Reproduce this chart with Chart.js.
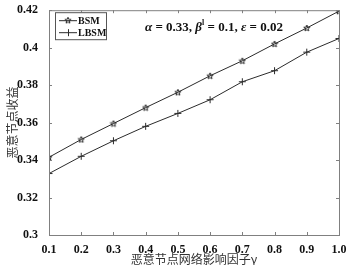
<!DOCTYPE html>
<html>
<head>
<meta charset="utf-8">
<script src="https://cdn.jsdelivr.net/npm/chart.js@4"></script>
<style>
	html, body { margin: 0; padding: 0; background: #fff; }
	#wrap { width: 350px; height: 265px; }
</style>
</head>
<body>
<div id="wrap"><canvas id="chart-line"></canvas></div>
<script>
// Data
const GAMMA = [0.1, 0.2, 0.3, 0.4, 0.5, 0.6, 0.7, 0.8, 0.9, 1.0];
const BSM = [0.3415, 0.351, 0.3595, 0.368, 0.3762, 0.385, 0.393, 0.402, 0.4105, 0.4195];
const LBSM = [0.3328, 0.342, 0.3503, 0.358, 0.3649, 0.3722, 0.3818, 0.3877, 0.3976, 0.4049];
const X_TICKS = ["0.1", "0.2", "0.3", "0.4", "0.5", "0.6", "0.7", "0.8", "0.9", "1.0"];
const Y_TICKS = ["0.3", "0.32", "0.34", "0.36", "0.38", "0.4", "0.42"];
const SERIES_NAMES = ["BSM", "LBSM"];
// note pieces: [text, italic]
const NOTE = [["α", true], [" = 0.33, ", false], ["β", true], ["ˡ", false], [" = 0.1, ", false], ["ε", true], [" = 0.02", false]];
const X_TITLE = "恶意节点网络影响因子γ";
const Y_TITLE = "恶意节点收益";

const LINE = "#2b2b2b";
const FRAME = "#808080";
const SERIF = "'Liberation Serif', 'Times New Roman', serif";
const CJK = "'Noto Sans CJK SC', sans-serif";

// Pentagram marker (MATLAB 'p')
const star = document.createElement("canvas");
star.width = 8;
star.height = 8;
(function () {
	const c = star.getContext("2d");
	c.strokeStyle = LINE;
	c.lineWidth = 1;
	c.beginPath();
	for (let i = 0; i < 10; i++) {
		const r = i % 2 === 0 ? 3.3 : 1.4;
		const a = -Math.PI / 2 + (i * Math.PI) / 5;
		const px = 4 + r * Math.cos(a);
		const py = 4.3 + r * Math.sin(a);
		i === 0 ? c.moveTo(px, py) : c.lineTo(px, py);
	}
	c.closePath();
	c.stroke();
})();

const toPoints = (ys) => GAMMA.map((x, i) => ({ x: x, y: ys[i] }));

const DATA = {
	datasets: [
		{
			label: SERIES_NAMES[0],
			data: toPoints(BSM),
			borderColor: LINE,
			borderWidth: 1,
			pointStyle: star,
			pointRadius: 4,
		},
		{
			label: SERIES_NAMES[1],
			data: toPoints(LBSM),
			borderColor: LINE,
			borderWidth: 1,
			pointStyle: "cross",
			pointRadius: 3.5,
			pointBorderColor: LINE,
			pointBorderWidth: 1,
		},
	],
};

// Frame, inward ticks, legend and note
const framePlugin = {
	id: "frame",
	afterDraw(chart) {
		const { ctx, chartArea: a, scales } = chart;
		ctx.save();
		ctx.strokeStyle = FRAME;
		ctx.lineWidth = 1;
		ctx.strokeRect(a.left + 0.5, a.top + 0.5, a.right - a.left, a.bottom - a.top);
		ctx.beginPath();
		scales.x.ticks.forEach((t) => {
			const px = Math.round(scales.x.getPixelForValue(t.value)) + 0.5;
			ctx.moveTo(px, a.bottom);
			ctx.lineTo(px, a.bottom - 3);
			ctx.moveTo(px, a.top);
			ctx.lineTo(px, a.top + 3);
		});
		scales.y.ticks.forEach((t) => {
			const py = Math.round(scales.y.getPixelForValue(t.value)) + 0.5;
			ctx.moveTo(a.left, py);
			ctx.lineTo(a.left + 3, py);
			ctx.moveTo(a.right, py);
			ctx.lineTo(a.right - 3, py);
		});
		ctx.stroke();

		// legend
		const lx = a.left + 6, ly = a.top + 2, lw = 51, lh = 27;
		ctx.fillStyle = "#fff";
		ctx.fillRect(lx, ly, lw, lh);
		ctx.strokeStyle = "#555";
		ctx.strokeRect(lx + 0.5, ly + 0.5, lw, lh);
		ctx.font = "bold 10px " + SERIF;
		ctx.textBaseline = "middle";
		chart.data.datasets.forEach((ds, i) => {
			const y = ly + 8 + i * 12;
			ctx.strokeStyle = LINE;
			ctx.beginPath();
			ctx.moveTo(lx + 4, y + 0.5);
			ctx.lineTo(lx + 22, y + 0.5);
			ctx.stroke();
			if (ds.pointStyle === star) {
				ctx.drawImage(star, lx + 13 - 4, y - 4);
			} else {
				ctx.beginPath();
				ctx.moveTo(lx + 13.5, y - 3);
				ctx.lineTo(lx + 13.5, y + 4);
				ctx.stroke();
			}
			ctx.fillStyle = "#111";
			ctx.fillText(ds.label, lx + 23, y + 1);
		});

		// parameter note
		ctx.fillStyle = "#111";
		let nx = a.left + 96;
		const ny = a.top + 17;
		NOTE.forEach(([txt, it]) => {
			if (txt === "ˡ") {
				ctx.font = "bold 8px " + SERIF;
				ctx.fillText("l", nx, ny - 4);
				nx += ctx.measureText("l").width;
				return;
			}
			ctx.font = (it ? "bold italic " : "bold ") + "13px " + SERIF;
			ctx.fillText(txt, nx, ny);
			nx += ctx.measureText(txt).width;
		});
		ctx.restore();
	},
};

const CONFIG = {
	type: "line",
	data: DATA,
	options: {
		responsive: true,
		maintainAspectRatio: false,
		animation: false,
		layout: {
			padding: { left: 0, right: 11, top: 5, bottom: 0 },
		},
		plugins: {
			legend: { display: false },
			tooltip: { enabled: false },
		},
		scales: {
			x: {
				type: "linear",
				min: 0.1,
				max: 1.0,
				border: { display: false },
				grid: { display: false },
				afterFit: (s) => { s.height = 30; },
				afterBuildTicks: (s) => {
					s.ticks = GAMMA.map((v) => ({ value: v }));
				},
				ticks: {
					autoSkip: false,
					maxRotation: 0,
					padding: 0,
					color: "#111",
					font: { family: SERIF, size: 12, weight: "bold" },
					callback: (v, i) => X_TICKS[i],
				},
				title: {
					display: true,
					text: X_TITLE,
					color: "#333",
					padding: { top: 0, bottom: -1 },
					font: { family: CJK, size: 12, lineHeight: 1.1 },
				},
			},
			y: {
				min: 0.3,
				max: 0.42,
				border: { display: false },
				grid: { display: false },
				afterFit: (s) => { s.width = 49; },
				afterBuildTicks: (s) => {
					s.ticks = Y_TICKS.map((t) => ({ value: Number(t) }));
				},
				ticks: {
					autoSkip: false,
					padding: 3,
					color: "#111",
					font: { family: SERIF, size: 12, weight: "bold" },
					callback: (v, i) => Y_TICKS[i],
				},
				title: {
					display: true,
					text: Y_TITLE,
					color: "#333",
					padding: { top: 5, bottom: 0 },
					font: { family: CJK, size: 12 },
				},
			},
		},
	},
	plugins: [framePlugin],
};

new Chart(document.getElementById("chart-line"), CONFIG);
</script>
</body>
</html>
